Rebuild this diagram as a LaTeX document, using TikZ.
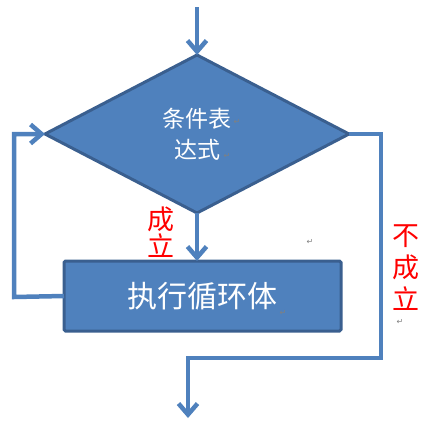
\documentclass[tikz,border=0pt]{standalone}
\usepackage{fontspec}
\newfontfamily\cjk{Noto Sans CJK SC}
\newfontfamily\sym{DejaVu Sans}
\usetikzlibrary{shapes.geometric,arrows.meta}
\definecolor{fillblue}{HTML}{4F81BD}
\definecolor{edgeblue}{HTML}{3A5F8F}
\definecolor{lineblue}{HTML}{4F81BD}
\tikzset{
  shapebase/.style={fill=fillblue,draw=edgeblue,line width=3pt,inner sep=0pt,outer sep=0pt,text=white,align=center},
  decision/.style={shapebase,diamond,minimum width=304pt,minimum height=158pt,
    font=\cjk\fontsize{23}{31}\selectfont},
  process/.style={shapebase,rectangle,rounded corners=1.5pt,minimum width=277pt,minimum height=70pt,
    font=\cjk\fontsize{30}{34}\selectfont},
  flow/.style={draw=lineblue,line width=4.5pt,line join=miter},
  arr/.style={flow,-{Straight Barb[length=11pt,width=19pt,line width=4.5pt]}},
  cond/.style={text=red,align=center,inner sep=0pt},
  pmark/.style={text=gray,font=\sym\fontsize{8}{8}\selectfont,inner sep=0pt}
}
\begin{document}
\begin{tikzpicture}[x=1pt,y=-1pt]
\useasboundingbox (0,0) rectangle (434,431);
\node[decision] (c) at (197,134) {条件表\\达式};
\node[process] (b) at (202.5,296) {\raisebox{-6pt}{执行循环体}};
\coordinate (in) at (197,7);
\coordinate (r1) at (381,358);
\coordinate (out) at (188,418);
\coordinate (l1) at (14,297);
\draw[arr] (in) -- (c.north);
\draw[arr] (c.south) -- (c.south |- b.north);
\draw[arr] (b.west) -- (l1) |- (c.west);
\draw[arr] (c.east) -| (r1) -| (out);
\node[cond,font=\cjk\fontsize{27}{27.5}\selectfont] (yes) at (161,232) {成\\立};
\node[cond,font=\cjk\fontsize{27}{32}\selectfont] (no) at (406,268) {不\\成\\立};
\node[pmark] (p1) at (237,122) {↵};
\node[pmark] (p2) at (227,156) {↵};
\node[pmark] (p3) at (310,242) {↵};
\node[pmark] (p4) at (283,313) {↵};
\node[pmark] (p5) at (400,322) {↵};
\end{tikzpicture}
\end{document}
